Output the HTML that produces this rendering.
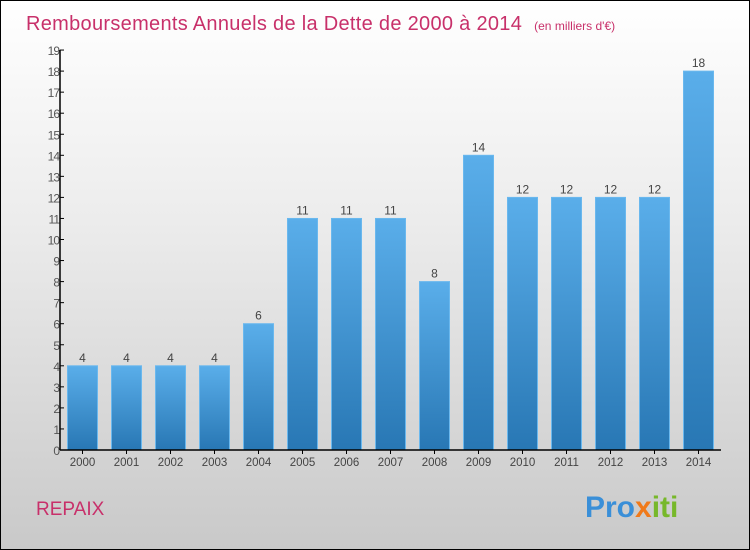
<!DOCTYPE html>
<html><head><meta charset="utf-8"><style>
body{margin:0}
#c{position:relative;width:748px;height:548px;border:1px solid #000;background:linear-gradient(#fff,#ececec 40%,#c9c9c9);font-family:"Liberation Sans",sans-serif;overflow:hidden}
</style></head><body>
<div id="c">
<svg width="748" height="548">
<defs><linearGradient id="g" x1="0" y1="0" x2="0" y2="1"><stop offset="0" stop-color="#5aaeea"/><stop offset="1" stop-color="#2877b4"/></linearGradient></defs>
<text x="25" y="29" font-size="20" letter-spacing="0.3" fill="#c8306a">Remboursements Annuels de la Dette de 2000 à 2014<tspan font-size="12" dx="12" letter-spacing="0">(en milliers d'€)</tspan></text>
<g id="ax"></g>
<text x="35" y="514" font-size="19" fill="#c8306a">REPAIX</text>
<text x="584" y="516" font-size="30" font-weight="bold" fill="#3a8fd8">Pro<tspan fill="#f07a1a">x</tspan><tspan fill="#77b82a">iti</tspan></text>
</svg></div>
<script>
const years=["2000","2001","2002","2003","2004","2005","2006","2007","2008","2009","2010","2011","2012","2013","2014"];
const values=[4,4,4,4,6,11,11,11,8,14,12,12,12,12,18];
const yTicks=[0,1,2,3,4,5,6,7,8,9,10,11,12,13,14,15,16,17,18,19];
const NS="http://www.w3.org/2000/svg";
const g=document.getElementById('ax');
const y0=449,unit=21.05,x0=59;
const ys=v=>y0-v*unit, xs=i=>81.5+i*44;
function mk(t,a,txt){const e=document.createElementNS(NS,t);for(const k in a)e.setAttribute(k,a[k]);if(txt!=null)e.textContent=txt;g.appendChild(e);return e;}
values.forEach((v,i)=>{
 const r=mk('rect',{x:xs(i)-15,y:ys(v),width:30,height:v*unit,fill:'url(#g)',stroke:'#6ab8ee','stroke-width':1});
 
 
 const t=mk('text',{x:xs(i),y:ys(v)-4,'font-size':12,fill:'#444','text-anchor':'middle'},String(v));
 
 
 const l=mk('text',{x:xs(i),y:y0+16,'font-size':11.5,fill:'#444','text-anchor':'middle'},years[i]);
 
 
 mk('line',{x1:xs(i),x2:xs(i),y1:y0,y2:y0+4,stroke:'#000'});
});
yTicks.forEach(v=>{
 mk('line',{x1:x0,x2:x0+4,y1:ys(v),y2:ys(v),stroke:'#000'});
 const t=mk('text',{x:x0-1,y:ys(v)+5,'font-size':12,fill:'#555','text-anchor':'end','letter-spacing':'-1'},String(v));
 
 
});
const ya=mk('line',{x1:x0,x2:x0,y1:ys(19),y2:y0,stroke:'#000','stroke-width':1.5});


const xa=mk('line',{x1:x0,x2:720,y1:y0,y2:y0,stroke:'#000','stroke-width':1.5});


</script>
</body></html>
